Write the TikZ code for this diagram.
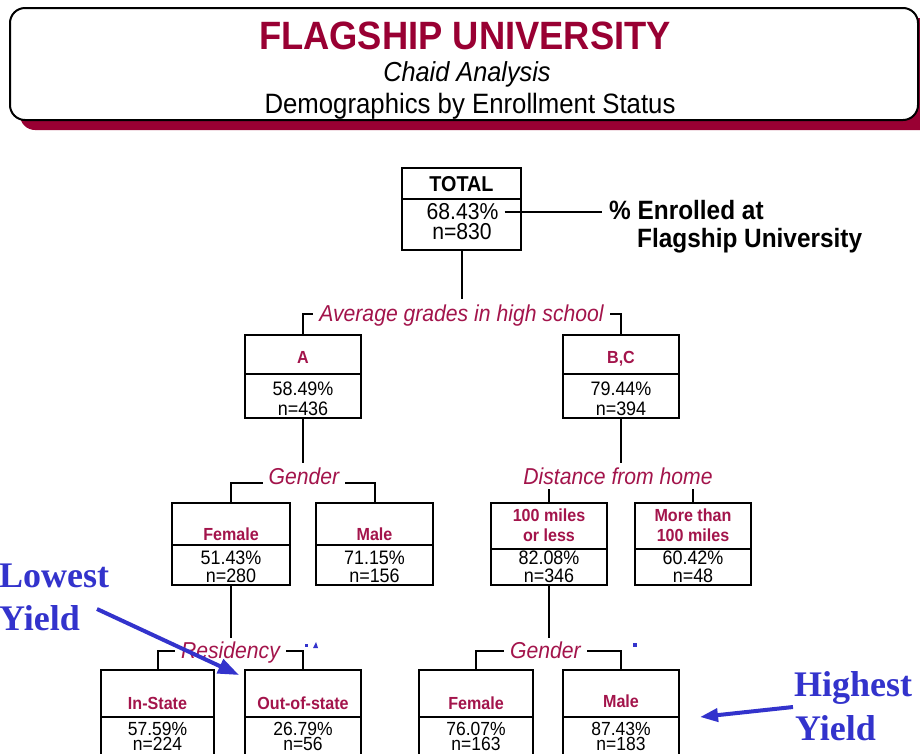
\documentclass[tikz,border=0pt]{standalone}
\usepackage{fontspec}
\setmainfont[FakeStretch=0.92]{Liberation Sans}
\newfontfamily\timesb{Liberation Serif}
\usetikzlibrary{arrows.meta,fit}
\definecolor{fured}{RGB}{153,0,51}
\definecolor{lblred}{RGB}{163,20,75}
\definecolor{yblue}{RGB}{51,51,204}
\newcommand{\chbox}[6]{%
  \node[cell, fit={(#2,#3) (#4,#5)}] (#1) {};
  \draw[cellline] (#2,#6) -- (#4,#6);}
\begin{document}
\begin{tikzpicture}[x=1pt,y=-1pt,
  cell/.style={draw, line width=2pt, inner sep=0pt},
  cellline/.style={line width=2pt},
  hd/.style={anchor=base, inner sep=0pt, text=lblred, font=\fontsize{17.5}{20}\selectfont\bfseries},
  dat/.style={anchor=base, inner xsep=6pt, inner ysep=0pt, font=\fontsize{19.5}{22}\selectfont},
  lowdat/.style={anchor=base, inner xsep=6pt, inner ysep=0pt, font=\fontsize{19}{21}\selectfont},
  bigdat/.style={anchor=base, inner xsep=6pt, inner ysep=0pt, font=\fontsize{23}{26}\selectfont},
  lvl/.style={anchor=base, fill=white, inner xsep=6pt, inner ysep=0pt, text height=17pt, text depth=5pt, text=lblred, font=\fontsize{23}{26}\selectfont\itshape},
  conn/.style={line width=2pt},
  enr/.style={anchor=base west, inner xsep=7pt, inner ysep=0pt, font=\fontsize{26.5}{30}\selectfont\bfseries},
  note/.style={anchor=base west, inner sep=0pt, text=yblue, font=\timesb\fontsize{36}{40}\selectfont\bfseries},
  yarrow/.style={draw=yblue, line width=4pt, -{Triangle[length=21pt,width=15pt]}}]
\useasboundingbox (0,0) rectangle (920,753);
\clip (0,0) rectangle (920,753);
\fill[white] (0,0) rectangle (920,753);
% header
\fill[fured, rounded corners=15pt] (20,18) rectangle (940,130);
\draw[fill=white, line width=2pt, rounded corners=15pt] (10,8) rectangle (918,120);
\node[anchor=base, inner sep=0pt, text=fured, font=\fontsize{39.5}{44}\selectfont\bfseries] (title) at (465,49) {FLAGSHIP UNIVERSITY};
\node[anchor=base, inner sep=0pt, font=\fontsize{27.5}{30}\selectfont\itshape] (sub1) at (467,81) {Chaid Analysis};
\node[anchor=base, inner sep=0pt, font=\fontsize{28}{30}\selectfont] (sub2) at (470,113) {Demographics by Enrollment Status};
% bracket corner levels
\coordinate (b1) at (461.5,314);
\coordinate (b2a) at (304,483);
\coordinate (b2b) at (618,483);
\coordinate (b3a) at (230.5,651);
\coordinate (b3b) at (545.5,651);
% boxes
\chbox{total}{402}{168}{521}{250}{199}
\chbox{A}{245}{335}{361}{418}{374}
\chbox{BC}{563}{335}{679}{418}{374}
\chbox{F1}{172}{503}{290}{585}{545}
\chbox{M1}{316}{503}{433}{585}{545}
\chbox{D1}{491}{503}{607}{585}{549}
\chbox{D2}{635}{503}{751}{585}{549}
\chbox{IS}{101}{670}{214}{765}{717}
\chbox{OS}{245}{670}{361}{765}{717}
\chbox{F2}{419}{670}{533}{765}{717}
\chbox{M2}{563}{670}{679}{765}{717}
% brackets
\draw[conn] (A.north) -- (A.north |- b1) -- (BC.north |- b1) -- (BC.north);
\draw[conn] (F1.north) -- (F1.north |- b2a) -- (M1.north |- b2a) -- (M1.north);
\draw[conn] (D1.north) -- (D1.north |- b2b) -- (D2.north |- b2b) -- (D2.north);
\draw[conn] (IS.north) -- (IS.north |- b3a) -- (OS.north |- b3a) -- (OS.north);
\draw[conn] (F2.north) -- (F2.north |- b3b) -- (M2.north |- b3b) -- (M2.north);
\node[lvl] (L1) at (461.5,321) {Average grades in high school};
\node[lvl] (L2a) at (304,484) {Gender};
\node[lvl] (L2b) at (618,484) {Distance from home};
\node[lvl] (L3a) at (230.5,658) {Residency};
\node[lvl] (L3b) at (545.5,658) {Gender};
\draw[conn, shorten >=5pt] (total.south) -- (total.south |- L1.north);
\draw[conn, shorten >=4pt] (A.south) -- (A.south |- L2a.north);
\draw[conn, shorten >=4pt] (BC.south) -- (BC.south |- L2b.north);
\draw[conn, shorten >=3pt] (F1.south) -- (F1.south |- L3a.north);
\draw[conn, shorten >=3pt] (D1.south) -- (D1.south |- L3b.north);
% box texts
\node[anchor=base, inner sep=0pt, font=\fontsize{21.5}{24}\selectfont\bfseries] (t-h) at (461.5,191.5) {TOTAL};
\node[bigdat] (t-p) at (462.5,219.5) {68.43\%};
\node[bigdat] (t-n) at (462,239.5) {n=830};
\node[hd] (A-h) at (303,363) {A};
\node[dat] (A-p) at (303,395) {58.49\%};
\node[dat] (A-n) at (303,415) {n=436};
\node[hd] (BC-h) at (621,363) {B,C};
\node[dat] (BC-p) at (621,395) {79.44\%};
\node[dat] (BC-n) at (621,415) {n=394};
\node[hd] (F1-h) at (231,540) {Female};
\node[dat] (F1-p) at (231,564) {51.43\%};
\node[dat] (F1-n) at (231,582) {n=280};
\node[hd] (M1-h) at (374.5,540) {Male};
\node[dat] (M1-p) at (374.5,564) {71.15\%};
\node[dat] (M1-n) at (374.5,582) {n=156};
\node[hd] (D1-h1) at (549,521) {100 miles};
\node[hd] (D1-h2) at (549,541) {or less};
\node[dat] (D1-p) at (549,564) {82.08\%};
\node[dat] (D1-n) at (549,582) {n=346};
\node[hd] (D2-h1) at (693,521) {More than};
\node[hd] (D2-h2) at (693,541) {100 miles};
\node[dat] (D2-p) at (693,564) {60.42\%};
\node[dat] (D2-n) at (693,582) {n=48};
\node[hd] (IS-h) at (157.5,709) {In-State};
\node[lowdat] (IS-p) at (157.5,735) {57.59\%};
\node[lowdat] (IS-n) at (157.5,750.5) {n=224};
\node[hd] (OS-h) at (303,709) {Out-of-state};
\node[lowdat] (OS-p) at (303,735) {26.79\%};
\node[lowdat] (OS-n) at (303,750.5) {n=56};
\node[hd] (F2-h) at (476,709) {Female};
\node[lowdat] (F2-p) at (476,735) {76.07\%};
\node[lowdat] (F2-n) at (476,750.5) {n=163};
\node[hd] (M2-h) at (621,707) {Male};
\node[lowdat] (M2-p) at (621,735) {87.43\%};
\node[lowdat] (M2-n) at (621,750.5) {n=183};
% enrolled note
\node[enr] (enr1) at (602,219) {\% Enrolled at};
\node[enr] (enr2) at (630,247) {Flagship University};
\draw[conn] (t-p.east) -- (t-p.east -| enr1.west);
% blue notes
\node[note] (low1) at (-1,587) {Lowest};
\node[note] (low2) at (-1,630) {Yield};
\node[note] (high1) at (794,696) {Highest};
\node[note] (high2) at (795,740) {Yield};
\coordinate (lowstart) at (97,609);
\coordinate (lowtip) at (239,675);
\coordinate (highstart) at (793,707);
\coordinate (hightip) at (700,717);
\draw[yarrow] (lowstart) -- (lowtip);
\draw[yarrow, -{Triangle[length=18pt,width=13pt]}] (highstart) -- (hightip);
\fill[yblue] (305,644) rectangle (308,647);
\fill[yblue] (313,648) -- (316,642) -- (318,648) -- cycle;
\fill[yblue] (633,643) rectangle (637,647);
\end{tikzpicture}
\end{document}
